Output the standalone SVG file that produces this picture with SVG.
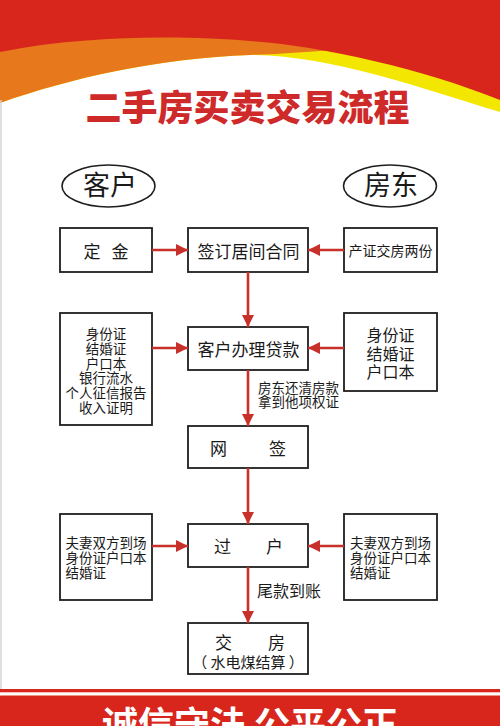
<svg xmlns="http://www.w3.org/2000/svg" width="500" height="726" viewBox="0 0 500 726">
<style>
text{font-family:"Noto Sans CJK SC","Noto Sans",sans-serif;fill:#1a1a1a;dominant-baseline:central}
.box{fill:#fff;stroke:#1e1e1e;stroke-width:1.8}
.c{text-anchor:middle}
.f17{font-size:17px}
.f14{font-size:13.5px}
.f16{font-size:16px}
.ln{stroke:#c8302a;stroke-width:2.6;fill:none}
</style>
<defs>
<marker id="ah" viewBox="0 0 12 12" refX="12" refY="6" markerWidth="12" markerHeight="12" markerUnits="userSpaceOnUse" orient="auto">
<path d="M0,0 L12,6 L0,12 Z" fill="#c8302a"/>
</marker>
</defs>
<rect width="500" height="726" fill="#fff"/>
<g id="header">
<path d="M0,0 H500 V112 C420,88 330,55 250,55 C160,58 70,78 0,103 Z" fill="#f3e600"/>
<path d="M0,0 H345 V49 C310,52 280,54 250,55 C160,58 70,78 0,103 Z" fill="#e8781c"/>
<path d="M0,0 H500 V100 C420,68 320,46 250,41 C190,36 90,34 0,52 Z" fill="#d8261d"/>
<text x="247.5" y="105" class="c" style="font-size:36px;font-weight:900;fill:#cf2a2a">二手房买卖交易流程</text>
</g>
<line x1="1" y1="100" x2="1" y2="690" stroke="#d5d5d5" stroke-width="1.5"/>
<g id="footer">
<rect x="0" y="689" width="500" height="37" fill="#d8261d"/>
<rect x="0" y="692.3" width="500" height="3.2" fill="#fff"/>
<text x="250" y="722" class="c" style="font-size:36px;font-weight:700;fill:#fff">诚信守法 公平公正</text>
</g>
<g id="customer">
<ellipse cx="108.5" cy="186" rx="46.5" ry="21" fill="#fff" stroke="#1e1e1e" stroke-width="1.6"/>
<text x="110" y="183" class="c" style="font-size:27px">客户</text>
</g>
<g id="owner">
<ellipse cx="390" cy="186" rx="46.5" ry="21" fill="#fff" stroke="#1e1e1e" stroke-width="1.6"/>
<text x="391" y="183" class="c" style="font-size:27px">房东</text>
</g>
<g id="deposit">
<rect class="box" x="60" y="228" width="92" height="44"/>
<text x="106" y="250" class="c f17" style="word-spacing:7px">定 金</text>
</g>
<g id="contract">
<rect class="box" x="188" y="228" width="120" height="44"/>
<text x="248.5" y="250" class="c f17">签订居间合同</text>
</g>
<g id="deed">
<rect class="box" x="344" y="228" width="93" height="44"/>
<text x="390.5" y="250" class="c" style="font-size:14px">产证交房两份</text>
</g>
<g id="loan">
<rect class="box" x="188" y="327" width="120" height="43"/>
<text x="248.5" y="348.5" class="c f17">客户办理贷款</text>
</g>
<g id="buyer-docs">
<rect class="box" x="60" y="313" width="92" height="112"/>
<text class="c f14"><tspan x="106" y="333">身份证</tspan><tspan x="106" y="347.8">结婚证</tspan><tspan x="106" y="362.6">户口本</tspan><tspan x="106" y="377.4">银行流水</tspan><tspan x="106" y="392.2">个人征信报告</tspan><tspan x="106" y="407">收入证明</tspan></text>
</g>
<g id="seller-docs">
<rect class="box" x="344" y="313" width="93" height="78"/>
<text class="c f16"><tspan x="390.5" y="334">身份证</tspan><tspan x="390.5" y="352.5">结婚证</tspan><tspan x="390.5" y="371">户口本</tspan></text>
</g>
<g id="online-sign">
<rect class="box" x="188" y="426" width="120" height="42"/>
<text x="248" y="447" class="c f17" style="word-spacing:38px">网 签</text>
</g>
<g id="transfer">
<rect class="box" x="188" y="524" width="120" height="43"/>
<text x="248.5" y="545.5" class="c f17" style="word-spacing:31px">过 户</text>
</g>
<g id="buyer-transfer-docs">
<rect class="box" x="60" y="514" width="92" height="86"/>
<text class="f14"><tspan x="65.5" y="542">夫妻双方到场</tspan><tspan x="65.5" y="557">身份证户口本</tspan><tspan x="65.5" y="572">结婚证</tspan></text>
</g>
<g id="seller-transfer-docs">
<rect class="box" x="344" y="514" width="93" height="86"/>
<text class="f14"><tspan x="350" y="542">夫妻双方到场</tspan><tspan x="350" y="557">身份证户口本</tspan><tspan x="350" y="572">结婚证</tspan></text>
</g>
<g id="handover">
<rect class="box" x="188" y="623" width="120" height="51"/>
<text x="250" y="641" class="c f17" style="word-spacing:32px">交 房</text>
<text x="248" y="661" class="c" style="font-size:15px">（ 水电煤结算 ）</text>
</g>
<g id="connectors">
<line class="ln" x1="152" y1="250" x2="188" y2="250" marker-end="url(#ah)"/>
<line class="ln" x1="344" y1="250" x2="308" y2="250" marker-end="url(#ah)"/>
<line class="ln" x1="248" y1="272" x2="248" y2="327" marker-end="url(#ah)"/>
<line class="ln" x1="152" y1="348" x2="188" y2="348" marker-end="url(#ah)"/>
<line class="ln" x1="344" y1="348" x2="308" y2="348" marker-end="url(#ah)"/>
<line class="ln" x1="248" y1="370" x2="248" y2="426" marker-end="url(#ah)"/>
<line class="ln" x1="248" y1="468" x2="248" y2="524" marker-end="url(#ah)"/>
<line class="ln" x1="152" y1="546" x2="188" y2="546" marker-end="url(#ah)"/>
<line class="ln" x1="344" y1="546" x2="308" y2="546" marker-end="url(#ah)"/>
<line class="ln" x1="248" y1="567" x2="248" y2="623" marker-end="url(#ah)"/>
<text class="f14"><tspan x="258" y="387">房东还清房款</tspan><tspan x="258" y="400.5">拿到他项权证</tspan></text>
<text x="257" y="590" class="f16">尾款到账</text>
</g>
</svg>
